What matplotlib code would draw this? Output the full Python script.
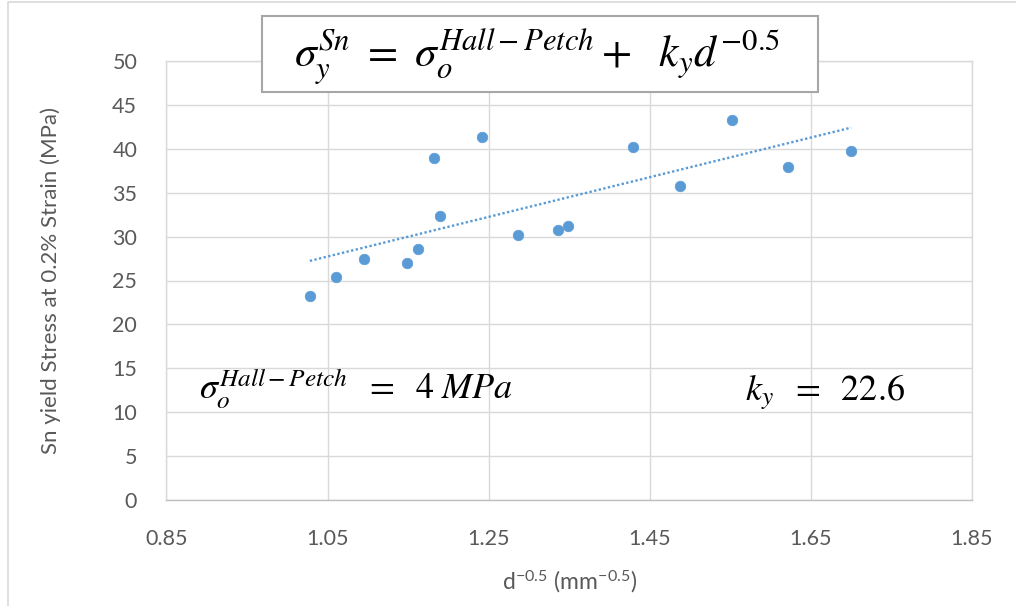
import matplotlib
matplotlib.use("Agg")
import matplotlib.pyplot as plt
from matplotlib.patches import Rectangle
from matplotlib.lines import Line2D
import numpy as np

# Measured grain-size parameter and Sn yield stress
d_inv_sqrt = [1.028, 1.060, 1.095, 1.149, 1.162, 1.182, 1.190, 1.242,
              1.287, 1.336, 1.348, 1.429, 1.487, 1.552, 1.622, 1.700]
yield_stress = [23.2, 25.35, 27.4, 27.05, 28.55, 38.95, 32.3, 41.4,
                30.15, 30.75, 31.2, 40.2, 35.8, 43.3, 37.9, 39.8]

# Hall-Petch fit parameters
sigma_0 = 4.0
k_y = 22.6

x_ticks = [0.85, 1.05, 1.25, 1.45, 1.65, 1.85]
x_tick_labels = ["0.85", "1.05", "1.25", "1.45", "1.65", "1.85"]
y_ticks = [0, 5, 10, 15, 20, 25, 30, 35, 40, 45, 50]
y_tick_labels = [str(v) for v in y_ticks]

plt.rcParams["mathtext.fontset"] = "stix"
plt.rcParams["font.family"] = ["Lato", "DejaVu Sans"]

W, H = 1016, 606
fig = plt.figure(figsize=(W / 100, H / 100), dpi=100)
fig.patch.set_facecolor("white")

left, right, top, bottom = 166.4, 972.0, 61.1, 499.9
ax = fig.add_axes([left / W, 1 - bottom / H, (right - left) / W, (bottom - top) / H])

ax.set_xlim(x_ticks[0], x_ticks[-1])
ax.set_ylim(y_ticks[0], y_ticks[-1])
ax.set_xticks(x_ticks)
ax.set_xticklabels(x_tick_labels)
ax.set_yticks(y_ticks)
ax.set_yticklabels(y_tick_labels)

grid_c = "#D9D9D9"
ax.grid(True, color=grid_c, lw=1.0)
ax.set_axisbelow(True)
for name, sp in ax.spines.items():
    sp.set_color(grid_c)
    sp.set_linewidth(1.0)
ax.spines["bottom"].set_color("#BFBFBF")
ax.tick_params(axis="both", length=0, labelsize=15.5, labelcolor="#595959")
ax.tick_params(axis="x", pad=21)
ax.tick_params(axis="y", pad=21)

ax.set_xlabel(r"d$^{\mathregular{-0.5}}$ (mm$^{\mathregular{-0.5}}$)",
              fontsize=16.5, color="#595959")
ax.xaxis.set_label_coords(0.5, -0.155)
ax.set_ylabel("Sn yield Stress at 0.2% Strain (MPa)", fontsize=16,
              color="#595959", va="center")
ax.yaxis.set_label_coords(-0.1433, 0.5)

blue = "#5B9BD5"
ax.scatter(d_inv_sqrt, yield_stress, s=58, color=blue, edgecolors=blue,
           linewidths=0.5, zorder=3)

xt = np.array([min(d_inv_sqrt), max(d_inv_sqrt)])
ax.plot(xt, sigma_0 + k_y * xt, ls=(0, (1, 1)), lw=1.7, color=blue, zorder=2)

# Annotations
ax.text(0.890, 11.4, r"$\sigma_o^{Hall-Petch}\;\ =\;\ 4\ MPa$", fontsize=26,
        color="black", ha="left", va="baseline")
ax.text(1.5687, 11.4, r"$k_y\;\ =\;\ 22.6$", fontsize=26, color="black",
        ha="left", va="baseline")

# Equation box over the top of the plot
box = Rectangle((262 / W, 1 - 92 / H), (818 - 262) / W, (92 - 16) / H,
                transform=fig.transFigure, facecolor="white",
                edgecolor="#A6A6A6", lw=1.5, zorder=5)
fig.patches.append(box)
fig.text(537 / W, 1 - 67 / H,
         r"$\sigma_y^{Sn}\ =\ \sigma_o^{Hall-Petch}+\ \ k_y d^{-0.5}$",
         fontsize=31.5, ha="center", va="baseline", zorder=6)

# Chart area frame
fig.add_artist(Line2D([8 / W, 8 / W, 1.0], [0.0, 1 - 2 / H, 1 - 2 / H],
                      transform=fig.transFigure, color=grid_c, lw=1.2))

fig.savefig("out.png", dpi=100, facecolor="white")
